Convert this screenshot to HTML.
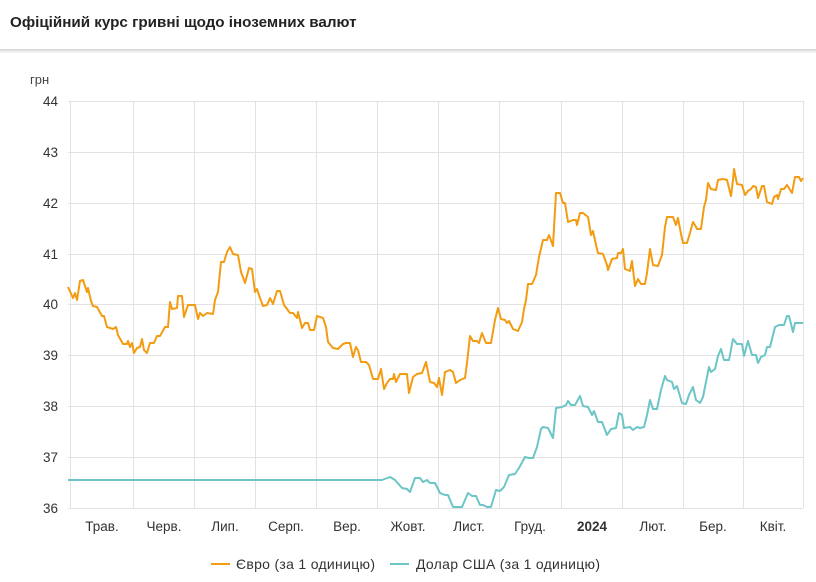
<!DOCTYPE html>
<html><head><meta charset="utf-8"><style>
html,body{margin:0;padding:0;background:#fff;width:816px;height:582px;overflow:hidden;font-family:"Liberation Sans",Arial,sans-serif}
</style></head><body>
<svg width="816" height="582" xmlns="http://www.w3.org/2000/svg" font-family="Liberation Sans, Arial, sans-serif">
<text x="10" y="27" font-size="15.2" font-weight="bold" fill="#222">Офіційний курс гривні щодо іноземних валют</text>
<rect x="0" y="49" width="816" height="2" fill="#ddd"/>
<rect x="0" y="51" width="816" height="2" fill="#f2f2f2"/>
<text x="30" y="84" font-size="13" fill="#444">грн</text>
<g stroke="#e2e2e2" stroke-width="1">
<line x1="68" y1="101.5" x2="803" y2="101.5"/>
<line x1="68" y1="152.5" x2="803" y2="152.5"/>
<line x1="68" y1="203.5" x2="803" y2="203.5"/>
<line x1="68" y1="254.5" x2="803" y2="254.5"/>
<line x1="68" y1="304.5" x2="803" y2="304.5"/>
<line x1="68" y1="355.5" x2="803" y2="355.5"/>
<line x1="68" y1="406.5" x2="803" y2="406.5"/>
<line x1="68" y1="457.5" x2="803" y2="457.5"/>
<line x1="68" y1="508.5" x2="803" y2="508.5"/>
<line x1="70.5" y1="101" x2="70.5" y2="508"/>
<line x1="133.5" y1="101" x2="133.5" y2="508"/>
<line x1="194.5" y1="101" x2="194.5" y2="508"/>
<line x1="255.5" y1="101" x2="255.5" y2="508"/>
<line x1="316.5" y1="101" x2="316.5" y2="508"/>
<line x1="377.5" y1="101" x2="377.5" y2="508"/>
<line x1="438.5" y1="101" x2="438.5" y2="508"/>
<line x1="499.5" y1="101" x2="499.5" y2="508"/>
<line x1="561.5" y1="101" x2="561.5" y2="508"/>
<line x1="622.5" y1="101" x2="622.5" y2="508"/>
<line x1="683.5" y1="101" x2="683.5" y2="508"/>
<line x1="743.5" y1="101" x2="743.5" y2="508"/>
<line x1="803.5" y1="101" x2="803.5" y2="508"/>
</g>
<g font-size="13.5" fill="#333" text-anchor="end">
<text x="58" y="106">44</text><text x="58" y="157">43</text><text x="58" y="208">42</text><text x="58" y="259">41</text><text x="58" y="309">40</text><text x="58" y="360">39</text><text x="58" y="411">38</text><text x="58" y="462">37</text><text x="58" y="513">36</text>
</g>
<g font-size="13.5" fill="#333" text-anchor="middle">
<text x="102" y="531">Трав.</text><text x="164" y="531">Черв.</text><text x="225" y="531">Лип.</text><text x="286" y="531">Серп.</text><text x="347" y="531">Вер.</text><text x="408" y="531">Жовт.</text><text x="469" y="531">Лист.</text><text x="530" y="531">Груд.</text><text x="592" y="531" font-weight="bold">2024</text><text x="653" y="531">Лют.</text><text x="713" y="531">Бер.</text><text x="773" y="531">Квіт.</text>
</g>
<polyline fill="none" stroke="#f39c12" stroke-width="2" stroke-linejoin="round" points="68,287 73,298 75,293 77,300 80,281 83,280 87,292 88,288 91,301 93,306 97,307 102,316 104,316 107,327 113,329 116,327 118,335 123,344 127,344 128,341 130,347 132,343 134,353 137,348 140,347 142,339 144,350 147,353 150,343 154,343 157,336 160,336 165,327 168,327 170,302 172,309 177,308 178,296 182,296 184,317 188,305 195,305 198,319 200,313 203,316 207,313 213,314 215,300 218,292 221,262 224,262 227,252 230,247 233,254 238,255 241,272 245,283 249,268 252,269 255,292 257,289 260,298 263,306 267,305 270,298 273,304 277,291 280,291 284,305 290,313 293,313 297,318 298,312 302,328 305,323 308,323 310,330 314,330 317,316 323,318 326,327 328,342 333,348 338,349 343,344 346,343 350,343 353,357 356,347 358,350 361,362 366,362 369,365 373,379 378,379 381,369 384,389 387,383 390,379 393,379 394,374 396,382 400,374 407,374 409,393 413,377 417,374 422,373 426,362 430,382 434,383 437,387 439,378 442,395 445,372 450,370 453,372 456,383 460,380 465,378 467,363 470,336 473,341 477,341 479,343 482,333 486,343 491,343 495,320 498,308 501,319 505,320 507,323 509,321 513,329 518,331 522,322 524,309 526,300 528,284 532,284 536,275 539,257 543,240 547,240 549,235 553,246 556,193 560,193 563,203 565,203 568,222 573,220 576,220 577,225 580,213 583,213 588,217 591,235 593,231 596,245 598,253 603,254 607,265 608,270 612,259 617,258 618,253 621,253 623,249 625,269 630,271 632,261 635,286 638,279 641,284 645,284 647,273 650,249 653,265 658,266 662,255 665,227 667,217 673,217 676,225 678,218 681,234 683,243 687,243 690,233 693,222 695,225 697,229 701,229 704,207 706,200 708,183 711,189 716,190 718,180 723,179 727,180 731,196 733,180 734,169 737,184 742,185 745,195 748,191 751,189 753,186 756,187 758,198 762,186 764,186 767,202 772,204 774,197 777,195 778,199 781,189 784,189 787,185 792,193 795,177 799,177 801,181 803,178"/>
<polyline fill="none" stroke="#6cc5c6" stroke-width="2" stroke-linejoin="round" points="68,480 382,480 390,477 395,480 402,488 407,489 410,492 415,478 420,478 423,482 427,480 430,483 435,483 440,493 445,495 448,495 453,507 462,507 465,500 468,493 472,496 476,496 480,505 483,505 487,507 491,507 496,490 500,491 504,487 509,475 515,474 519,468 525,457 529,458 533,458 537,447 541,429 543,427 548,428 553,438 556,408 562,407 566,405 568,401 571,405 575,405 580,396 583,406 588,407 592,415 594,411 598,422 602,422 607,435 611,429 616,428 619,413 622,415 624,428 630,427 633,430 637,427 640,428 644,427 647,415 650,400 653,409 657,409 661,390 665,376 667,380 672,382 674,389 677,386 682,403 686,404 689,395 693,387 696,400 700,403 703,397 706,382 709,367 711,372 715,369 718,356 721,349 724,360 729,360 733,339 737,344 742,344 744,356 748,341 752,355 756,355 758,363 761,357 765,355 767,347 770,347 775,327 779,325 784,325 787,316 789,316 793,332 795,323 799,323 803,323"/>
<line x1="211" y1="564" x2="230" y2="564" stroke="#f39c12" stroke-width="2"/>
<text x="236" y="569" font-size="14" fill="#333" textLength="139">Євро (за 1 одиницю)</text>
<line x1="390" y1="564" x2="409" y2="564" stroke="#6cc5c6" stroke-width="2"/>
<text x="416" y="569" font-size="14" fill="#333" textLength="184">Долар США (за 1 одиницю)</text>
</svg>
</body></html>
